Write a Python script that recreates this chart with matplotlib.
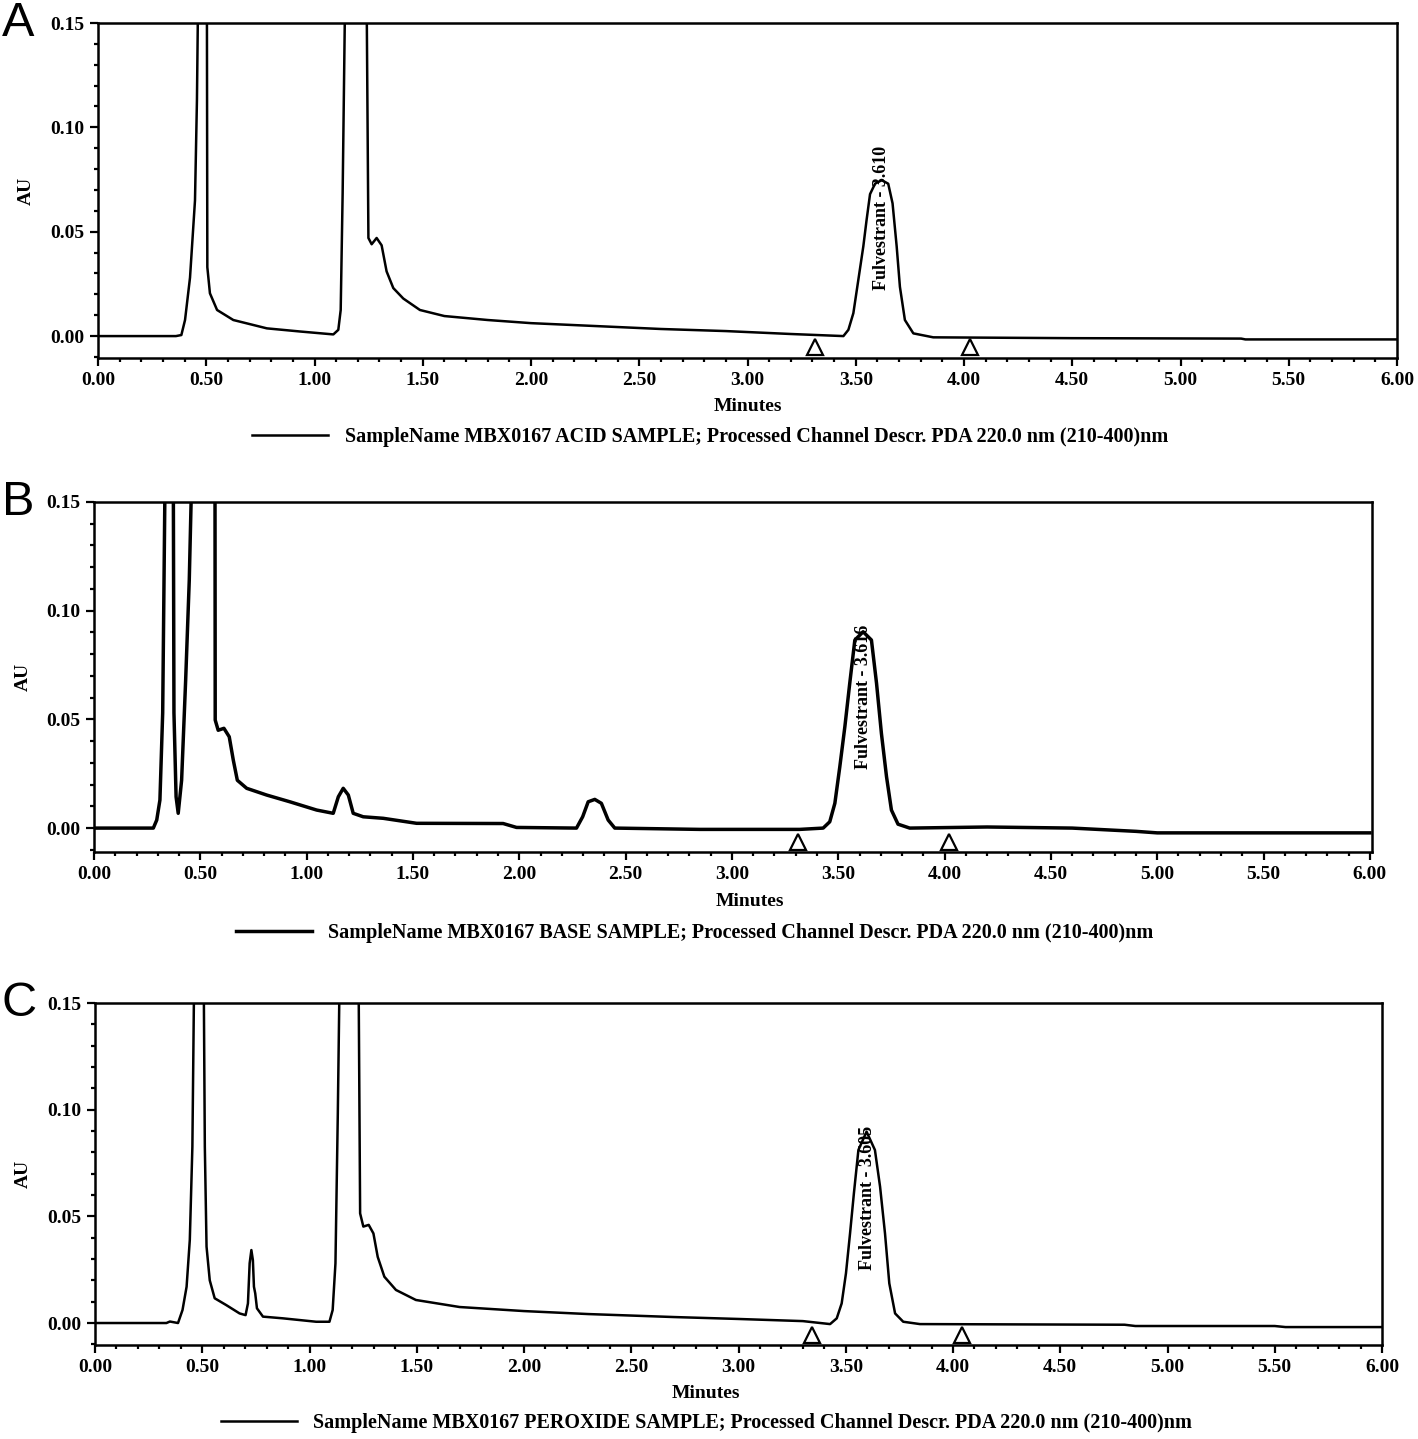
import matplotlib
matplotlib.use("Agg")
import matplotlib.pyplot as plt
from matplotlib.ticker import MultipleLocator, FormatStrFormatter

# ---- panel A: acid sample ----
a_time = [0.00, 0.36, 0.385, 0.402, 0.425, 0.448, 0.457, 0.462, 0.503, 0.505, 0.517,
          0.55, 0.625, 0.78, 0.933, 1.087, 1.11, 1.121, 1.13, 1.141, 1.241, 1.249,
          1.264, 1.287, 1.31, 1.333, 1.364, 1.41, 1.487, 1.6, 1.8, 2.0, 2.3, 2.6,
          2.9, 3.2, 3.443, 3.466, 3.489, 3.512, 3.535, 3.55, 3.566, 3.589, 3.62,
          3.65, 3.67, 3.689, 3.704, 3.727, 3.766, 3.858, 4.5, 5.28, 5.3, 6.0]
a_au = [0.000, 0.000, 0.0005, 0.0077, 0.028, 0.065, 0.113, 0.16, 0.16, 0.033, 0.0205,
        0.0125, 0.0077, 0.0037, 0.0022, 0.0008, 0.003, 0.0125, 0.0685, 0.16, 0.16, 0.047,
        0.044, 0.047, 0.0435, 0.031, 0.023, 0.018, 0.0125, 0.0096, 0.0077, 0.0062, 0.0048, 0.0034,
        0.0024, 0.001, 0.0, 0.003, 0.011, 0.027, 0.043, 0.0556, 0.068, 0.073, 0.0747,
        0.073, 0.0636, 0.043, 0.0236, 0.0077, 0.0013, -0.0006, -0.001, -0.0012, -0.0016, -0.0016]
a_marks = [3.312, 4.028]
a_peak = (3.62, "Fulvestrant - 3.610")
a_name = "SampleName MBX0167 ACID SAMPLE; Processed Channel Descr. PDA 220.0 nm (210-400)nm"

# ---- panel B: base sample ----
b_time = [0.00, 0.279, 0.295, 0.31, 0.323, 0.334, 0.373, 0.376, 0.386, 0.396, 0.412,
          0.431, 0.448, 0.459, 0.569, 0.570, 0.584, 0.611, 0.636, 0.655, 0.674, 0.718,
          0.812, 0.921, 1.047, 1.125, 1.149, 1.172, 1.196, 1.219, 1.266, 1.36, 1.517,
          1.924, 1.987, 2.269, 2.298, 2.324, 2.355, 2.386, 2.418, 2.449, 2.849, 3.319,
          3.429, 3.46, 3.484, 3.507, 3.531, 3.554, 3.578, 3.617, 3.656, 3.68, 3.703,
          3.727, 3.75, 3.781, 3.836, 4.2, 4.6, 4.9, 5.0, 6.0]
b_au = [0.000, 0.000, 0.0037, 0.0129, 0.053, 0.16, 0.16, 0.053, 0.0144, 0.0068, 0.022,
        0.068, 0.114, 0.16, 0.16, 0.0497, 0.045, 0.0459, 0.042, 0.0313, 0.022, 0.0183,
        0.0152, 0.0121, 0.0083, 0.0068, 0.0144, 0.0183, 0.0152, 0.0068, 0.0052, 0.0045, 0.0022,
        0.0021, 0.0003, 0.0, 0.0052, 0.0121, 0.0132, 0.0114, 0.0037, 0.0, -0.0006, -0.0006,
        0.0, 0.0029, 0.0114, 0.028, 0.0466, 0.0666, 0.0865, 0.0903, 0.0865, 0.0666, 0.0435,
        0.0236, 0.0083, 0.0018, 0.0, 0.0005, 0.0, -0.0015, -0.0022, -0.0022]
b_marks = [3.31, 4.02]
b_peak = (3.617, "Fulvestrant - 3.616")
b_name = "SampleName MBX0167 BASE SAMPLE; Processed Channel Descr. PDA 220.0 nm (210-400)nm"

# ---- panel C: peroxide sample ----
c_time = [0.00, 0.333, 0.349, 0.387, 0.408, 0.427, 0.442, 0.454, 0.462, 0.507, 0.512,
          0.52, 0.535, 0.558, 0.612, 0.674, 0.702, 0.713, 0.721, 0.729, 0.736, 0.741,
          0.747, 0.755, 0.783, 0.876, 1.031, 1.093, 1.108, 1.121, 1.132, 1.14, 1.229,
          1.236, 1.251, 1.276, 1.298, 1.318, 1.349, 1.403, 1.496, 1.7, 2.0, 2.3, 2.7,
          3.0, 3.3, 3.427, 3.458, 3.481, 3.501, 3.52, 3.538, 3.559, 3.597, 3.636, 3.66,
          3.683, 3.703, 3.73, 3.768, 3.846, 4.8, 4.85, 5.5, 5.55, 6.0]
c_au = [0.000, 0.000, 0.0007, 0.0, 0.0061, 0.017, 0.039, 0.0827, 0.16, 0.16, 0.0827,
        0.0358, 0.020, 0.0116, 0.0084, 0.0045, 0.0037, 0.0092, 0.028, 0.0342, 0.0295, 0.017,
        0.0139, 0.0069, 0.003, 0.0022, 0.0006, 0.0006, 0.0061, 0.028, 0.0983, 0.16, 0.16,
        0.0514, 0.0452, 0.046, 0.042, 0.031, 0.0217, 0.0155, 0.0108, 0.0075, 0.0056, 0.0042, 0.0028,
        0.0019, 0.0009, -0.0005, 0.0022, 0.0092, 0.0233, 0.042, 0.0608, 0.0811, 0.0897, 0.0811, 0.0639,
        0.042, 0.0186, 0.0045, 0.0006, -0.0005, -0.0008, -0.0014, -0.0014, -0.0019, -0.0019]
c_marks = [3.343, 4.042]
c_peak = (3.60, "Fulvestrant - 3.605")
c_name = "SampleName MBX0167 PEROXIDE SAMPLE; Processed Channel Descr. PDA 220.0 nm (210-400)nm"

SERIF = "Liberation Serif"
W, H = 1418, 1439

fig = plt.figure(figsize=(W / 100, H / 100), dpi=100)
fig.patch.set_facecolor("white")

panels = [
    # letter, time, au, marks, peak, name, (left, top, right, bottom px), xmax, ymin, lw,
    # peak label start, mark y, legend anchor, xlabel x
    ("A", a_time, a_au, a_marks, a_peak, a_name, (98, 23, 1397, 358), 6.0, -0.0105, 1.8,
     0.022, -0.0053, (0.471, -0.236), 0.5),
    ("B", b_time, b_au, b_marks, b_peak, b_name, (94, 502, 1372, 852), 6.01, -0.011, 2.5,
     0.027, -0.0064, (0.47, -0.231), 0.513),
    ("C", c_time, c_au, c_marks, c_peak, c_name, (95, 1003, 1382, 1345), 6.0, -0.0103, 1.8,
     0.025, -0.0056, (0.475, -0.228), 0.475),
]

for (letter, t, au, marks, peak, name, box, xmax, ymin, lw,
     lab_y, mark_y, leg_xy, xlab_x) in panels:
    left, top, right, bottom = box
    ax = fig.add_axes([left / W, 1 - bottom / H, (right - left) / W, (bottom - top) / H])
    ax.plot(t, au, color="black", lw=lw, label=name, solid_joinstyle="round")
    ax.plot(marks, [mark_y] * len(marks), linestyle="none", marker="^", markersize=12,
            markerfacecolor="white", markeredgecolor="black", markeredgewidth=1.6)
    ax.text(peak[0], lab_y, peak[1], rotation=90, ha="center", va="bottom",
            fontsize=13, family=SERIF, fontweight="bold")

    ax.set_xlim(0, xmax)
    ax.set_ylim(ymin, 0.15)
    ax.xaxis.set_major_locator(MultipleLocator(0.5))
    ax.xaxis.set_minor_locator(MultipleLocator(0.1))
    ax.yaxis.set_major_locator(MultipleLocator(0.05))
    ax.yaxis.set_minor_locator(MultipleLocator(0.01))
    ax.xaxis.set_major_formatter(FormatStrFormatter("%.2f"))
    ax.yaxis.set_major_formatter(FormatStrFormatter("%.2f"))
    ax.tick_params(which="major", direction="out", length=6, width=1.6, pad=4)
    ax.tick_params(which="minor", direction="out", length=3, width=1.6)
    for lbl in ax.get_xticklabels() + ax.get_yticklabels():
        lbl.set_family(SERIF)
        lbl.set_fontweight("bold")
        lbl.set_fontsize(14)
    for sp in ax.spines.values():
        sp.set_linewidth(1.8)

    ax.set_xlabel("Minutes", family=SERIF, fontweight="bold", fontsize=14)
    ax.set_ylabel("AU", family=SERIF, fontweight="bold", fontsize=14)
    ax.xaxis.set_label_coords(xlab_x, -0.118)
    ax.yaxis.set_label_coords(-0.049, 0.5)

    ax.legend(loc="center", bbox_to_anchor=leg_xy, frameon=False, handlelength=3.8,
              handletextpad=0.8, prop={"family": SERIF, "weight": "bold", "size": 14.5})

    fig.text(2 / W, 1 - (top - 22) / H, letter, ha="left", va="top",
             fontsize=35, family="Liberation Sans")

fig.savefig("out.png", dpi=100, facecolor="white")
